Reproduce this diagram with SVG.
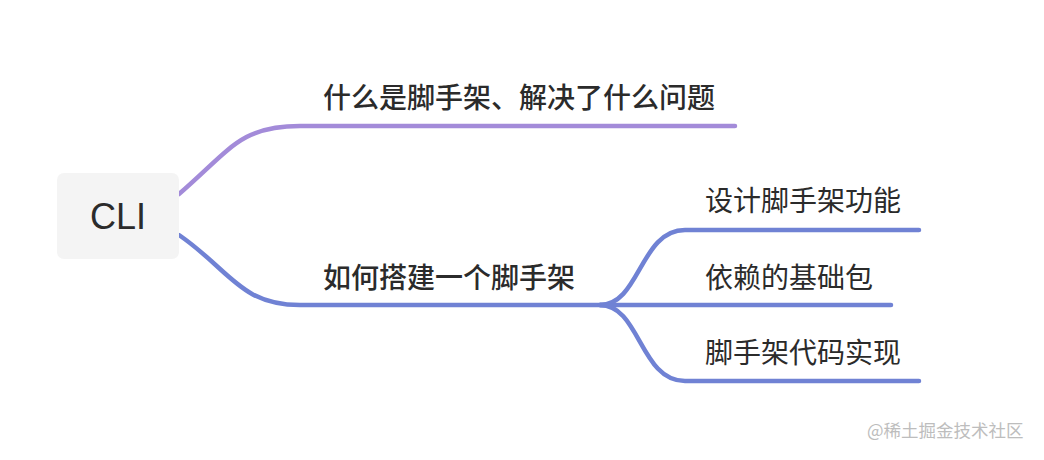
<svg xmlns="http://www.w3.org/2000/svg" width="1044" height="460" viewBox="0 0 1044 460">
<style>
.t{font-family:"Noto Sans CJK SC","Liberation Sans",sans-serif;font-size:28px;fill:#2b2b2b}
.m{font-weight:500}
.c{fill:none;stroke-width:4.5;stroke-linecap:round}
.p{stroke:#a38bd9}
.b{stroke:#7082d4}
</style>
<rect width="1044" height="460" fill="#ffffff"/>
<g id="connectors">
<path class="c p" d="M179,194 C230,150 240,126 300,126 L735,126"/>
<path class="c b" d="M179,235 C230,270 240,305 300,305 L610,305"/>
<path class="c b" d="M600,305 C640,305 640,230 685,230 L919,230"/>
<path class="c b" d="M600,305 L891,305"/>
<path class="c b" d="M600,305 C640,305 640,381 685,381 L919,381"/>
</g>
<g id="cli">
<rect x="57" y="173" width="122" height="86" rx="7" fill="#f4f4f4"/>
<text x="118" y="229" text-anchor="middle" font-family="Liberation Sans, Arial, sans-serif" font-size="36" fill="#2b2b2b">CLI</text>
</g>
<g id="n1"><text class="t m" x="323" y="108">什么是脚手架、解决了什么问题</text></g>
<g id="n2"><text class="t m" x="323" y="288">如何搭建一个脚手架</text></g>
<g id="n3"><text class="t" x="705" y="211">设计脚手架功能</text></g>
<g id="n4"><text class="t" x="705" y="288">依赖的基础包</text></g>
<g id="n5"><text class="t" x="705" y="363">脚手架代码实现</text></g>
<g id="wm"><text x="867" y="437" font-family="Noto Sans CJK SC, Liberation Sans, sans-serif" font-size="17.5" fill="#bdbdbd">@稀土掘金技术社区</text></g>
</svg>
